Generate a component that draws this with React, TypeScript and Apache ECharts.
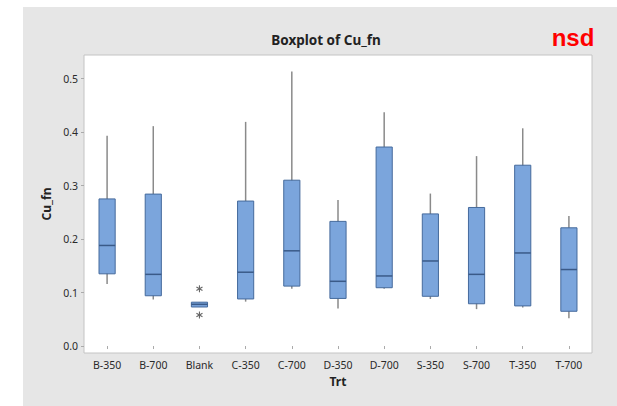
import React, { useEffect, useRef } from "react";
import * as echarts from "echarts";

const categories = ["B-350", "B-700", "Blank", "C-350", "C-700", "D-350", "D-700", "S-350", "S-700", "T-350", "T-700"];
const whiskerLow = [0.116, 0.087, 0.073, 0.083, 0.107, 0.070, 0.107, 0.088, 0.069, 0.072, 0.052];
const q1 = [0.135, 0.094, 0.073, 0.088, 0.112, 0.089, 0.109, 0.093, 0.079, 0.075, 0.065];
const median = [0.188, 0.134, 0.078, 0.138, 0.178, 0.121, 0.131, 0.159, 0.134, 0.174, 0.143];
const q3 = [0.275, 0.284, 0.082, 0.271, 0.310, 0.233, 0.372, 0.247, 0.259, 0.338, 0.221];
const whiskerHigh = [0.393, 0.411, 0.082, 0.419, 0.513, 0.273, 0.437, 0.285, 0.355, 0.407, 0.243];
const outlierCategory = ["Blank", "Blank"];
const outlierValues = [0.107, 0.058];
const yTicks = [0, 0.1, 0.2, 0.3, 0.4, 0.5];

const FONT = "'Noto Sans', sans-serif";

export default function App() {
  const ref = useRef<HTMLDivElement>(null);
  useEffect(() => {
    document.body.style.margin = "0";
    const chart = echarts.init(ref.current!, null, { renderer: "svg" });
    const boxData = categories.map((_, i) => [i, whiskerLow[i], q1[i], median[i], q3[i], whiskerHigh[i]]);
    const outData = outlierCategory.map((c, i) => [categories.indexOf(c), outlierValues[i]]);
    chart.setOption({
      animation: false,
      backgroundColor: "#ffffff",
      graphic: [
        {
          type: "rect",
          z: -10,
          silent: true,
          shape: { x: 23, y: 7, width: 600, height: 400 },
          style: { fill: "#e6e6e6" },
        },
        {
          type: "text",
          x: 573,
          y: 37,
          style: {
            text: "nsd",
            fill: "#ff0000",
            font: "bold 24px 'Liberation Sans', Arial, sans-serif",
            textAlign: "center",
            textVerticalAlign: "middle",
          },
        },
      ],
      title: {
        text: "Boxplot of Cu_fn",
        left: 321,
        top: 28,
        textAlign: "center",
        textStyle: { fontFamily: FONT, fontSize: 13.5, fontWeight: "bold", color: "#222" },
      },
      grid: {
        left: 84,
        top: 55,
        right: 25,
        bottom: 53,
        show: true,
        backgroundColor: "#ffffff",
        borderColor: "#c4c4c4",
        borderWidth: 1,
      },
      xAxis: {
        type: "category",
        data: categories,
        boundaryGap: true,
        name: "Trt",
        nameLocation: "middle",
        nameGap: 22,
        nameTextStyle: { fontFamily: FONT, fontSize: 12, fontWeight: "bold", color: "#222" },
        axisLine: { show: false },
        axisTick: { show: true, alignWithLabel: true, length: 3, lineStyle: { color: "#aaa" } },
        axisLabel: { fontFamily: FONT, fontSize: 10.5, color: "#2a2a2a", margin: 6 },
        splitLine: { show: false },
      },
      yAxis: {
        type: "value",
        min: -0.013,
        max: 0.544,
        name: "Cu_fn",
        nameLocation: "middle",
        nameGap: 31,
        nameTextStyle: { fontFamily: FONT, fontSize: 12, fontWeight: "bold", color: "#222" },
        axisLine: { show: false },
        axisTick: { show: true, length: 3, customValues: yTicks, lineStyle: { color: "#aaa" } },
        axisLabel: {
          fontFamily: FONT,
          fontSize: 10.5,
          color: "#2a2a2a",
          margin: 6,
          customValues: yTicks,
          formatter: (v: number) => v.toFixed(1),
        },
        splitLine: { show: false },
      },
      series: [
        {
          type: "custom",
          name: "box",
          data: boxData,
          encode: { x: 0, y: [1, 2, 3, 4, 5] },
          renderItem: (params: any, api: any) => {
            const idx = api.value(0);
            const pLow = api.coord([idx, api.value(1)]);
            const pQ1 = api.coord([idx, api.value(2)]);
            const pMed = api.coord([idx, api.value(3)]);
            const pQ3 = api.coord([idx, api.value(4)]);
            const pHigh = api.coord([idx, api.value(5)]);
            const half = api.size([1, 0])[0] * 0.175;
            const cx = pMed[0];
            const h = Math.max(pQ1[1] - pQ3[1], 3);
            const top = pQ1[1] - pQ3[1] < 3 ? (pQ1[1] + pQ3[1]) / 2 - 1.5 : pQ3[1];
            return {
              type: "group",
              children: [
                {
                  type: "line",
                  shape: { x1: cx, y1: pLow[1], x2: cx, y2: pHigh[1] },
                  style: { stroke: "#8a8a8a", lineWidth: 1.5 },
                },
                {
                  type: "rect",
                  shape: { x: cx - half, y: top, width: half * 2, height: h },
                  style: { fill: "#7ba5dc", stroke: "#456a9c", lineWidth: 1 },
                },
                {
                  type: "line",
                  shape: { x1: cx - half, y1: pMed[1], x2: cx + half, y2: pMed[1] },
                  style: { stroke: "#3a5a88", lineWidth: 1.5 },
                },
              ],
            };
          },
        },
        {
          type: "custom",
          name: "outliers",
          data: outData,
          encode: { x: 0, y: 1 },
          renderItem: (params: any, api: any) => {
            const p = api.coord([api.value(0), api.value(1)]);
            const r = 3.5;
            const s = { stroke: "#666", lineWidth: 1.1 };
            const c = Math.cos(Math.PI / 6) * r;
            const d = Math.sin(Math.PI / 6) * r;
            return {
              type: "group",
              children: [
                { type: "line", shape: { x1: p[0], y1: p[1] - r, x2: p[0], y2: p[1] + r }, style: s },
                { type: "line", shape: { x1: p[0] - c, y1: p[1] - d, x2: p[0] + c, y2: p[1] + d }, style: s },
                { type: "line", shape: { x1: p[0] - c, y1: p[1] + d, x2: p[0] + c, y2: p[1] - d }, style: s },
              ],
            };
          },
        },
      ],
    });
    return () => chart.dispose();
  }, []);
  return <div ref={ref} style={{ width: 617, height: 406 }} />;
}
